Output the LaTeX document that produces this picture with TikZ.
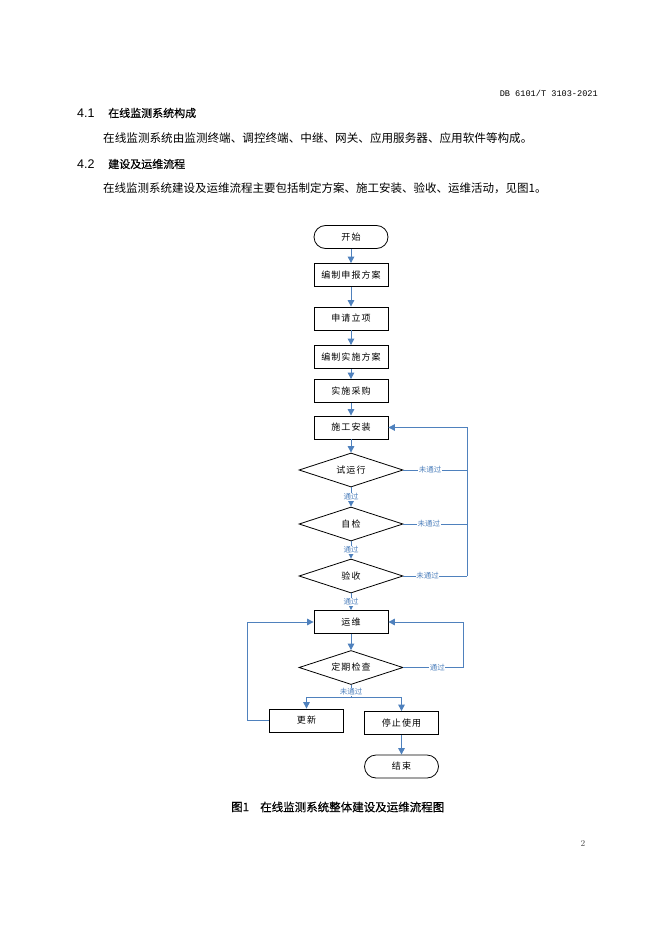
\documentclass[tikz,border=0pt]{standalone}
\usepackage{fontspec}
\usepackage{tikz}
\usetikzlibrary{shapes.geometric}
\usetikzlibrary{arrows.meta}

\newfontfamily\cjk{Noto Sans CJK SC}
\newfontfamily\cjkhead[FakeBold=0.4]{Noto Sans CJK SC}
\newfontfamily\cjkbox[LetterSpace=12]{Noto Sans CJK SC}
\newfontfamily\numfont{Liberation Sans}
\newfontfamily\codefont{Liberation Mono}
\definecolor{flowblue}{RGB}{79,129,189}

\tikzset{
    box/.style={rectangle, draw, line width=0.8pt, minimum width=74pt, minimum height=23pt,
        inner sep=0pt, font=\cjkbox\fontsize{9}{10}\selectfont},
    term/.style={box, rounded corners=11.5pt},
    choice/.style={diamond, aspect=3, draw, line width=0.8pt, minimum width=104pt,
        minimum height=34pt, inner sep=0pt, font=\cjkbox\fontsize{9}{10}\selectfont},
    flow/.style={draw=flowblue, line width=1pt, -{Triangle[length=6.5pt, width=6.5pt]}},
    link/.style={draw=flowblue, line width=1pt},
    lbl/.style={fill=white, inner sep=0.6pt, text=flowblue, font=\cjk\fontsize{7.5}{9}\selectfont},
    txt/.style={anchor=west, inner sep=0pt},
}

\begin{document}
\begin{tikzpicture}[x=1pt, y=-1pt]
        \fill[white] (0,0) rectangle (662,936);

        % Page text
        \node[anchor=east, inner sep=0pt, font=\codefont\fontsize{8.6}{10}\selectfont] (hd) at (598,93) {DB 6101/T 3103-2021};
        \node[txt, font=\numfont\fontsize{12.5}{14}\selectfont] (n1) at (77,113) {4.1};
        \node[txt, font=\cjkhead\fontsize{11}{13}\selectfont] (h1) at (108,113) {在线监测系统构成};
        \node[txt, font=\cjk\fontsize{11.6}{13}\selectfont] (p1) at (103,138) {在线监测系统由监测终端、调控终端、中继、网关、应用服务器、应用软件等构成。};
        \node[txt, font=\numfont\fontsize{12.5}{14}\selectfont] (n2) at (77,164) {4.2};
        \node[txt, font=\cjkhead\fontsize{11}{13}\selectfont] (h2) at (108,164) {建设及运维流程};
        \node[txt, font=\cjk\fontsize{11.5}{13}\selectfont] (p2) at (103,188) {在线监测系统建设及运维流程主要包括制定方案、施工安装、验收、运维活动，见图1。};

        % Nodes
        \node[term] (1) at (351,237) {开始};
        \node[box] (2) at (351,275) {编制申报方案};
        \node[box] (3) at (351,318.5) {申请立项};
        \node[box] (4) at (351,357) {编制实施方案};
        \node[box] (5) at (351,391) {实施采购};
        \node[box] (6) at (351,427.5) {施工安装};
        \node[choice] (7) at (351,470) {试运行};
        \node[choice] (8) at (351,524) {自检};
        \node[choice] (9) at (351,576) {验收};
        \node[box] (10) at (351,622) {运维};
        \node[choice] (11) at (351,667.5) {定期检查};
        \node[box] (12) at (306.5,720.5) {更新};
        \node[box] (13) at (401.5,723) {停止使用};
        \node[term] (14) at (401.5,766.5) {结束};

        \coordinate (r1) at (467,470);
        \coordinate (r2) at (467,524);
        \coordinate (r3) at (467,576);
        \coordinate (r4) at (463,667.5);
        \coordinate (s) at (351,697);
        \coordinate (l) at (247,720.5);

        % Edges
        \draw[flow] (1) -- (2);
        \draw[flow] (2) -- (3);
        \draw[flow] (3) -- (4);
        \draw[flow] (4) -- (5);
        \draw[flow] (5) -- (6);
        \draw[flow] (6) -- (7);
        \draw[flow] (7) -- node[lbl] {通过} (8);
        \draw[flow] (8) -- node[lbl] {通过} (9);
        \draw[flow] (9) -- node[lbl] {通过} (10);
        \draw[link] (7.east) -- node[lbl, pos=0.42] {未通过} (r1);
        \draw[link] (8.east) -- node[lbl, pos=0.4] {未通过} (r2);
        \draw[link] (9.east) -- node[lbl, pos=0.38] {未通过} (r3);
        \draw[flow] (r3) |- (6.east);
        \draw[flow] (10) -- (11);
        \draw[flow] (11.east) -- node[lbl, pos=0.57] {通过} (r4) |- (10.east);
        \draw[link] (11.south) -- (s);
        \draw[flow] (s) -| (12.north);
        \draw[flow] (s) -| (13.north);
        \node[lbl] (nl) at (351,692) {未通过};
        \draw[flow] (12.west) -- (l) |- (10.west);
        \draw[flow] (13) -- (14);

        % Caption
        \node[txt, font=\cjkhead\fontsize{11.5}{13}\selectfont] (c1) at (231,807) {图1};
        \node[txt, font=\cjkhead\fontsize{11.5}{13}\selectfont] (c2) at (260,807) {在线监测系统整体建设及运维流程图};
        \node[inner sep=0pt, text=black!70, font=\fontsize{9}{10}\selectfont] (pg) at (583,843) {2};
\end{tikzpicture}
\end{document}
